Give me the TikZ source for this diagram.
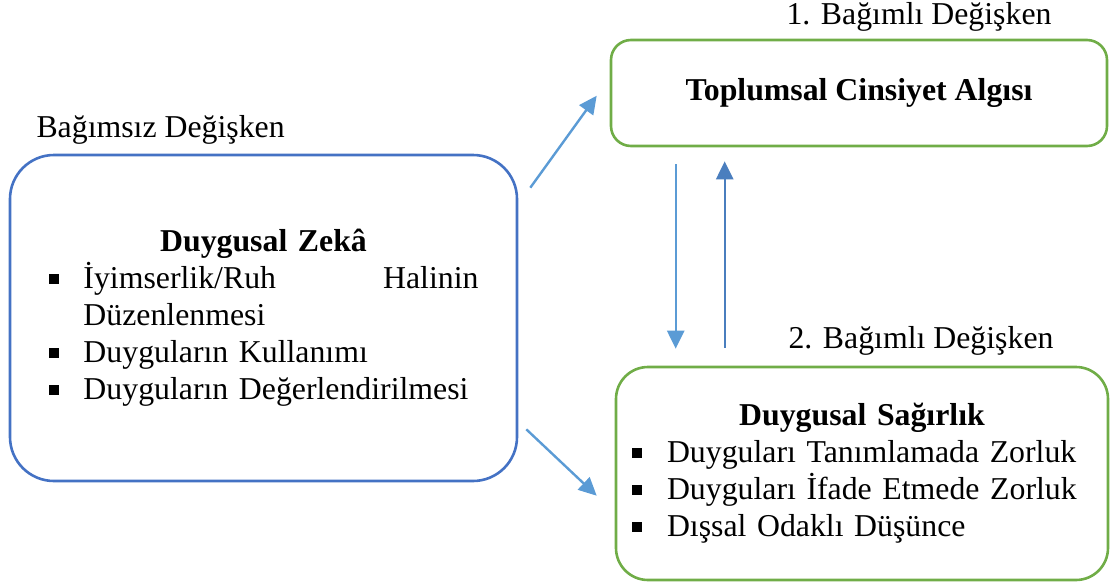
\documentclass[tikz,border=0pt]{standalone}
\usepackage{fontspec}
\setmainfont{Liberation Serif}
\usetikzlibrary{arrows.meta}
\definecolor{mavi}{RGB}{68,114,196}
\definecolor{yesil}{RGB}{112,173,71}
\definecolor{okmavi}{RGB}{91,155,213}
\definecolor{koyuok}{RGB}{74,126,190}
\newcommand{\baslik}[1]{\noindent\makebox[\linewidth][c]{\bfseries #1}\par}
\newcommand{\madde}[1]{\noindent\makebox[35pt][l]{\rule[5pt]{10pt}{10pt}}#1\par}
\begin{document}
\begin{tikzpicture}[x=1pt,y=-1pt, font=\fontsize{31.8}{37}\selectfont,
	kutu/.style={draw=#1,line width=2.6pt,inner sep=0pt,align=left},
	ok/.style={draw=okmavi,line width=2.4pt,-{Triangle[length=18pt,width=17pt]}}]
	\useasboundingbox (0,0) rectangle (1112,587);
	\node [kutu=mavi,rounded corners=44pt,minimum width=507pt,minimum height=326pt,text width=430pt] (zeka) at (263.5,318) {%
		\baslik{Duygusal Zekâ}
		\madde{\makebox[395pt][s]{İyimserlik/Ruh\hfill Halinin}}
		\noindent\hspace*{35pt}Düzenlenmesi\par
		\madde{Duyguların Kullanımı}
		\madde{Duyguların Değerlendirilmesi}};
	\node [kutu=yesil,rounded corners=20pt,minimum width=496pt,minimum height=106pt,font=\fontsize{31.8}{37}\selectfont\bfseries] (toplum) at (859,93) {Toplumsal Cinsiyet Algısı};
	\node [kutu=yesil,rounded corners=32pt,minimum width=492pt,minimum height=213pt,text width=460pt] (sagir) at (862,473.5) {%
		\baslik{Duygusal Sağırlık}
		\madde{Duyguları Tanımlamada Zorluk}
		\madde{Duyguları İfade Etmede Zorluk}
		\madde{Dışsal Odaklı Düşünce}};
	\node [anchor=base west] (bagimsiz) at (33,137) {Bağımsız Değişken};
	\node [anchor=base west] (bagimli1) at (783,24) {1. Bağımlı Değişken};
	\node [anchor=base west] (bagimli2) at (785,348) {2. Bağımlı Değişken};
	\draw [ok] ([shift={(12,34)}]zeka.north east) -- ([shift={(-13,57)}]toplum.north west);
	\draw [ok] ([shift={(8,-53)}]zeka.south east) -- ([shift={(-18,130)}]sagir.north west);
	\draw [ok] ([shift={(66,17)}]toplum.south west) -- ([shift={(61,-17)}]sagir.north west);
	\draw [ok,draw=koyuok] ([shift={(110,-18)}]sagir.north west) -- ([shift={(115,14)}]toplum.south west);
\end{tikzpicture}
\end{document}
